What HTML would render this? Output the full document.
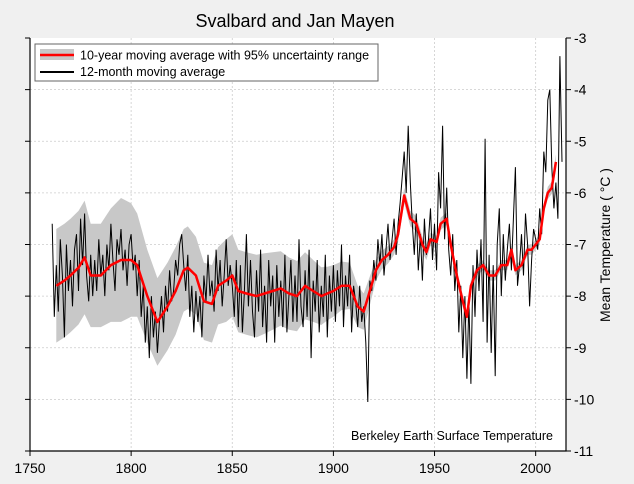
<!DOCTYPE html>
<html><head><meta charset="utf-8"><style>
body{margin:0;background:#f0f0f0;}
svg{display:block;font-family:"Liberation Sans",Arial,sans-serif;}
</style></head><body>
<svg id="chart" width="634" height="484">
<rect x="0" y="0" width="634" height="484" fill="#f0f0f0"/>
<rect x="30" y="38" width="536" height="413" fill="#fff"/>
<g id="grid"></g>
<g id="series"></g>
<g id="axes"></g>
<text x="295" y="27" font-size="18" text-anchor="middle">Svalbard and Jan Mayen</text>
<text x="610" y="245" font-size="14" text-anchor="middle" transform="rotate(-90 610 245)">Mean Temperature ( °C )</text>
<text x="553" y="440" font-size="12.5" text-anchor="end">Berkeley Earth Surface Temperature</text>
<g>
<rect x="35" y="44" width="343" height="37" fill="#fff" stroke="#666" stroke-width="1"/>
<rect x="40" y="49" width="34" height="11" fill="#c8c8c8"/>
<line x1="40" y1="55" x2="74" y2="55" stroke="#f00" stroke-width="2.5"/>
<text x="80" y="59.5" font-size="12.5">10-year moving average with 95% uncertainty range</text>
<line x1="40" y1="72" x2="74" y2="72" stroke="#000" stroke-width="2"/>
<text x="80" y="76" font-size="12.5">12-month moving average</text>
</g>
</svg>
<script>
const xTicks=[1750,1800,1850,1900,1950,2000];
const yTicks=[-3,-4,-5,-6,-7,-8,-9,-10,-11];
const annualStart=1761;
const annualValues=[
-6.6,-8.4,-7.4,-8.3,-6.9,-7.6,-8.8,-7.0,-7.9,-7.3,
-8.2,-7.1,-6.8,-7.9,-6.5,-7.4,-6.4,-7.6,-8.1,-7.2,
-8.0,-7.3,-7.9,-6.9,-7.6,-7.2,-8.0,-7.0,-7.5,-6.6,
-7.3,-7.9,-6.9,-7.2,-6.7,-7.5,-7.1,-7.8,-7.0,-6.8,
-7.5,-7.2,-8.0,-7.3,-8.4,-7.8,-8.9,-8.2,-9.2,-8.0,
-8.8,-8.3,-9.1,-8.5,-8.0,-8.7,-7.8,-8.3,-7.5,-8.1,
-7.9,-7.3,-7.6,-7.0,-6.8,-7.4,-7.9,-7.2,-8.4,-7.8,
-8.7,-7.9,-8.5,-8.0,-8.8,-7.6,-8.1,-7.2,-8.0,-7.7,
-8.3,-7.1,-7.9,-7.3,-8.2,-7.6,-6.9,-7.8,-7.4,-7.8,
-8.4,-7.3,-8.6,-7.4,-8.7,-7.9,-6.8,-8.2,-7.3,-8.3,
-8.8,-7.5,-8.3,-7.1,-8.6,-7.8,-8.9,-7.3,-8.2,-7.6,
-8.9,-7.4,-8.4,-7.7,-8.6,-7.2,-8.7,-8.0,-7.3,-8.5,
-7.6,-8.5,-6.9,-8.2,-8.6,-7.5,-8.4,-7.1,-9.2,-7.7,
-8.3,-7.3,-8.7,-7.8,-8.4,-7.2,-8.8,-7.6,-8.3,-7.4,
-8.5,-7.5,-8.2,-7.0,-8.6,-7.6,-8.2,-7.2,-8.7,-7.8,
-8.1,-8.6,-7.8,-8.5,-8.2,-8.9,-10.05,-7.7,-7.9,-7.3,
-7.7,-6.9,-7.4,-6.8,-7.6,-7.1,-6.6,-7.3,-6.9,-6.5,
-7.2,-6.6,-6.2,-5.7,-5.2,-6.0,-4.7,-5.8,-6.6,-7.2,
-6.4,-7.5,-6.8,-7.7,-6.5,-7.2,-6.9,-6.3,-7.3,-6.6,
-7.5,-5.6,-6.3,-4.7,-6.9,-5.9,-7.1,-7.6,-6.8,-7.9,
-7.3,-8.7,-7.8,-9.2,-8.0,-9.6,-8.1,-9.7,-7.4,-8.4,
-7.1,-7.9,-6.9,-8.5,-4.95,-8.9,-7.2,-9.1,-7.4,-9.55,
-7.0,-6.3,-8.0,-6.8,-7.7,-7.1,-6.6,-7.5,-6.5,-5.5,
-7.8,-7.4,-6.8,-7.6,-6.4,-7.0,-8.2,-7.3,-6.7,-6.9,
-7.1,-6.3,-6.8,-5.2,-5.6,-4.2,-4.0,-5.5,-6.3,-5.8,
-6.5,-3.35,-5.4];
const smoothYears=[1763,1767,1770,1774,1777,1780,1785,1790,1795,1800,1803,1808,1813,1818,1822,1826,1828,1832,1836,1840,1843,1847,1850,1853,1857,1862,1866,1870,1874,1878,1882,1886,1890,1894,1897,1900,1904,1908,1912,1915,1918,1921,1924,1927,1930,1932,1935,1938,1941,1944,1946,1948,1951,1953,1956,1958,1961,1964,1966,1968,1971,1974,1977,1980,1983,1986,1988,1990,1993,1996,1998,2000,2002,2004,2006,2008,2010];
const smoothValues=[-7.8,-7.7,-7.6,-7.45,-7.25,-7.6,-7.6,-7.4,-7.3,-7.3,-7.4,-8.0,-8.5,-8.2,-7.9,-7.5,-7.45,-7.6,-8.1,-8.15,-7.8,-7.7,-7.6,-7.9,-7.95,-8.0,-7.95,-7.9,-7.85,-7.95,-8.0,-7.8,-7.9,-8.0,-7.95,-7.9,-7.8,-7.8,-8.2,-8.3,-7.9,-7.5,-7.3,-7.2,-7.05,-6.8,-6.05,-6.5,-6.6,-7.0,-7.15,-6.9,-6.95,-6.6,-6.5,-7.0,-7.6,-8.1,-8.4,-7.8,-7.5,-7.4,-7.6,-7.6,-7.4,-7.4,-7.1,-7.5,-7.4,-7.1,-7.1,-7.0,-6.9,-6.3,-6.0,-5.9,-5.4];
const bandHalfWidth=[1.1,1.1,1.1,1.1,1.1,1.0,1.0,1.1,1.2,1.1,1.0,0.9,0.85,0.85,0.85,0.8,0.8,0.75,0.75,0.75,0.75,0.8,0.8,0.8,0.8,0.8,0.78,0.75,0.72,0.7,0.68,0.65,0.6,0.56,0.52,0.5,0.47,0.45,0.4,0.35,0.28,0.2,0.18,0.17,0.15,0.15,0.15,0.15,0.15,0.15,0.15,0.13,0.12,0.12,0.12,0.12,0.12,0.12,0.12,0.12,0.1,0.1,0.1,0.1,0.1,0.1,0.1,0.1,0.1,0.1,0.1,0.1,0.1,0.1,0.12,0.12,0.15];

const NS='http://www.w3.org/2000/svg';
const X0=30,X1=566,Y0=38,Y1=451,YR0=1750,YR1=2015;
function xs(y){return X0+(y-YR0)/(YR1-YR0)*(X1-X0);}
function ys(v){return Y0+(-3-v)/8*(Y1-Y0);}
function mk(tag,attrs,parent){const e=document.createElementNS(NS,tag);for(const k in attrs)e.setAttribute(k,attrs[k]);parent.appendChild(e);return e;}
const grid=document.getElementById('grid'),axes=document.getElementById('axes'),ser=document.getElementById('series');
xTicks.forEach(t=>{
  const g=mk('line',{x1:xs(t),x2:xs(t),y1:Y0,y2:Y1,stroke:'#ccc','stroke-dasharray':'2,2','stroke-width':0.8},grid);
  
  
  const tk=mk('line',{x1:xs(t),x2:xs(t),y1:Y1,y2:Y1+5,stroke:'#000'},axes);
  
  
  const l=mk('text',{x:xs(t),y:Y1+22,'font-size':14,'text-anchor':'middle'},axes);l.textContent=t;
  
  
});
yTicks.forEach(t=>{
  if(t>-11&&t<-3){const g=mk('line',{x1:X0,x2:X1,y1:ys(t),y2:ys(t),stroke:'#ccc','stroke-dasharray':'2,2','stroke-width':0.8},grid);
  
  }
  const tk=mk('line',{x1:X0-5,x2:X0,y1:ys(t),y2:ys(t),stroke:'#000'},axes);
  
  
  const tk2=mk('line',{x1:X1,x2:X1+5,y1:ys(t),y2:ys(t),stroke:'#000'},axes);
  
  
  const l=mk('text',{x:X1+8,y:ys(t)+5,'font-size':14},axes);l.textContent=t;
  
  
});
const ax=mk('path',{d:`M${X0},${Y0}V${Y1}H${X1}V${Y0}`,fill:'none',stroke:'#000','stroke-width':1.2},axes);


let up=smoothYears.map((y,i)=>`${xs(y).toFixed(1)},${ys(smoothValues[i]+bandHalfWidth[i]).toFixed(1)}`);
let lo=smoothYears.map((y,i)=>`${xs(y).toFixed(1)},${ys(smoothValues[i]-bandHalfWidth[i]).toFixed(1)}`).reverse();
const band=mk('polygon',{points:up.concat(lo).join(' '),fill:'#c8c8c8'},ser);


const bl=mk('polyline',{points:annualValues.map((v,i)=>`${xs(annualStart+i).toFixed(1)},${ys(v).toFixed(1)}`).join(' '),fill:'none',stroke:'#000','stroke-width':1},ser);


const rl=mk('polyline',{points:smoothYears.map((y,i)=>`${xs(y).toFixed(1)},${ys(smoothValues[i]).toFixed(1)}`).join(' '),fill:'none',stroke:'#f00','stroke-width':2.5,'stroke-linejoin':'round'},ser);


</script>
</body></html>
